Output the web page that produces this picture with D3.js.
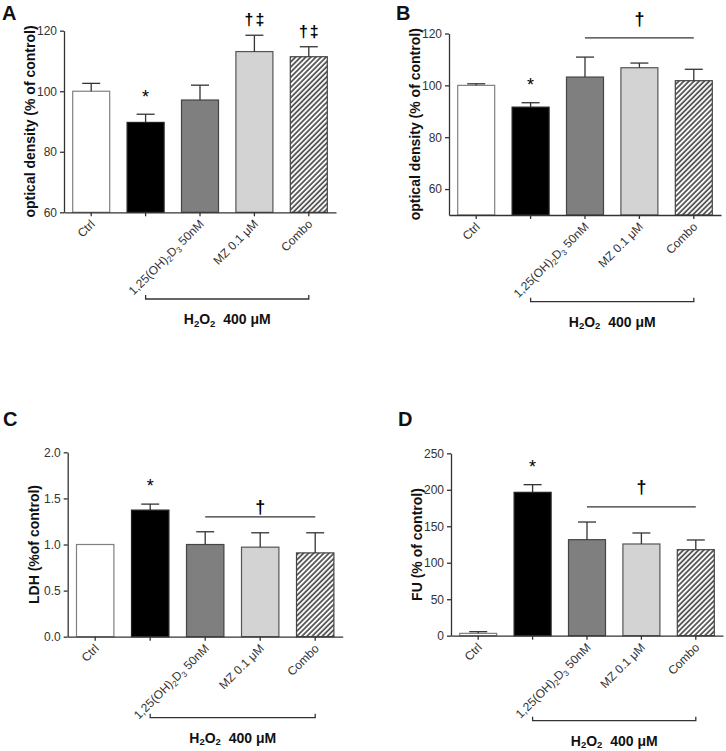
<!DOCTYPE html>
<html>
<head>
<meta charset="utf-8">
<script src="https://cdn.jsdelivr.net/npm/d3@7"></script>
<style>
  body { margin: 0; background: #fff; }
  svg { display: block; font-family: "Liberation Sans", Arial, sans-serif; }
</style>
</head>
<body>
<svg id="fig" width="726" height="751"></svg>
<script>
// groups and tick labels (the H2O2-only bar carries no label)
const groups = ["ctrl", "h2o2", "vd3", "mz", "combo"];
const groupLabels = ["Ctrl", "", "1,25(OH)_2D_3 50nM", "MZ 0.1 μM", "Combo"];

// A - optical density
const odA = [100, 89.7, 97.1, 113.1, 111.4];
const odAErr = [2.6, 2.7, 4.9, 5.4, 3.3];
// B - optical density
const odB = [100, 91.6, 103.2, 106.8, 101.8];
const odBErr = [0.6, 1.7, 7.7, 1.8, 4.4];
// C - LDH
const ldh = [1.0, 1.373, 1.0, 0.971, 0.909];
const ldhErr = [0, 0.065, 0.138, 0.156, 0.218];
// D - FU
const fu = [3.2, 196.5, 131.6, 125.7, 117.9];
const fuErr = [2.3, 10.5, 24.2, 15.1, 13.3];

const ticksA = [60, 80, 100, 120];
const ticksB = [60, 80, 100, 120];
const ticksC = [0, 0.5, 1.0, 1.5, 2.0];
const ticksD = [0, 50, 100, 150, 200, 250];

// significance bars (value on the y scale)
const sigB = 118.3;
const sigC = 1.30;
const sigD = 176.5;

const fills = ["#ffffff", "#000000", "#7f7f7f", "#d3d3d3", "url(#hatch)"];
const strokes = ["#808080", "#222222", "#444444", "#555555", "#444444"];

const svg = d3.select("#fig");

// diagonal hatching for the Combo bars
const pat = svg.append("defs").append("pattern")
  .attr("id", "hatch")
  .attr("patternUnits", "userSpaceOnUse")
  .attr("width", 3.6)
  .attr("height", 3.6)
  .attr("patternTransform", "rotate(45)");
pat.append("rect").attr("width", 3.6).attr("height", 3.6).attr("fill", "#fff");
pat.append("line")
  .attr("x1", 1).attr("y1", 0).attr("x2", 1).attr("y2", 3.6)
  .attr("stroke", "#4a4a4a").attr("stroke-width", 1.7);

const panels = [
  { letter: "A", lx: 2, ly: 20, mean: odA, err: odAErr, domain: [60, 120], ticks: ticksA, fmt: "d",
    yLabel: "optical density (% of control)", x0: 64, w: 272, top: 30.7, bottom: 212.3,
    bracketDy: 86.7, daggers: [3, 4], sig: null },
  { letter: "B", lx: 396, ly: 20, mean: odB, err: odBErr, domain: [50, 120], ticks: ticksB, fmt: "d",
    yLabel: "optical density (% of control)", x0: 449, w: 272, top: 33.5, bottom: 215,
    bracketDy: 86.7, daggers: [], sig: sigB, sigDy: 12.5 },
  { letter: "C", lx: 3, ly: 426, mean: ldh, err: ldhErr, domain: [0, 2], ticks: ticksC, fmt: ".1f",
    yLabel: "LDH (%of control)", x0: 67.7, w: 275, top: 452.3, bottom: 636.7,
    bracketDy: 81, daggers: [], sig: sigC, sigDy: 4 },
  { letter: "D", lx: 398, ly: 426, mean: fu, err: fuErr, domain: [0, 250], ticks: ticksD, fmt: "d",
    yLabel: "FU (% of control)", x0: 451, w: 272, top: 453.3, bottom: 635.7,
    bracketDy: 85, daggers: [], sig: sigD, sigDy: 13.5 }
];

// write "a_2b" as a with a subscript 2
function richText(sel, str, subSize) {
  str.split(/(_\d)/).filter((s) => s.length).forEach((part, i, arr) => {
    if (part[0] === "_") {
      sel.append("tspan").attr("font-size", subSize).attr("dy", 2.5).text(part[1]);
    } else {
      const t = sel.append("tspan").text(part);
      if (i > 0 && arr[i - 1][0] === "_") t.attr("dy", -2.5);
    }
  });
}

panels.forEach(drawPanel);

function drawPanel(p) {
  const g = svg.append("g");

  const x = d3.scaleBand()
    .domain(groups)
    .range([p.x0, p.x0 + p.w])
    .paddingInner(0.32)
    .paddingOuter(0.16);
  const y = d3.scaleLinear().domain(p.domain).range([p.bottom, p.top]);
  const cx = (d) => x(d) + x.bandwidth() / 2;

  // bars
  g.selectAll("rect.bar")
    .data(groups)
    .join("rect")
    .attr("class", "bar")
    .attr("x", (d) => x(d))
    .attr("width", x.bandwidth())
    .attr("y", (d, i) => y(p.mean[i]))
    .attr("height", (d, i) => y(p.domain[0]) - y(p.mean[i]))
    .attr("fill", (d, i) => fills[i])
    .attr("stroke", (d, i) => strokes[i])
    .attr("stroke-width", 1.2);

  // upper error bars
  const eb = g.selectAll("g.err")
    .data(groups.filter((d, i) => p.err[i] > 0))
    .join("g")
    .attr("class", "err")
    .attr("stroke", "#333")
    .attr("stroke-width", 1.3);
  eb.append("line")
    .attr("x1", cx).attr("x2", cx)
    .attr("y1", (d) => y(p.mean[groups.indexOf(d)]))
    .attr("y2", (d) => y(p.mean[groups.indexOf(d)] + p.err[groups.indexOf(d)]));
  eb.append("line")
    .attr("x1", (d) => cx(d) - 9).attr("x2", (d) => cx(d) + 9)
    .attr("y1", (d) => y(p.mean[groups.indexOf(d)] + p.err[groups.indexOf(d)]))
    .attr("y2", (d) => y(p.mean[groups.indexOf(d)] + p.err[groups.indexOf(d)]));

  // y axis
  const ya = g.append("g")
    .attr("transform", `translate(${p.x0},0)`)
    .call(d3.axisLeft(y).tickValues(p.ticks).tickSize(4).tickSizeOuter(0)
      .tickFormat(d3.format(p.fmt)));
  // x axis
  const xa = g.append("g")
    .attr("transform", `translate(0,${p.bottom})`)
    .call(d3.axisBottom(x).tickSize(4).tickSizeOuter(0).tickFormat(""));
  [ya, xa].forEach((a) => {
    a.selectAll("path, line").attr("stroke", "#333").attr("stroke-width", 1.3);
    a.selectAll("text").attr("fill", "#333").attr("font-size", 12)
      .attr("font-family", "Liberation Sans, Arial, sans-serif");
  });

  // rotated group labels
  groups.forEach((d, i) => {
    if (!groupLabels[i]) return;
    const t = g.append("text")
      .attr("transform", `translate(${cx(d) + 4.5},${p.bottom + 12.5}) rotate(-45)`)
      .attr("text-anchor", "end")
      .attr("font-size", 12)
      .attr("fill", "#333");
    richText(t, groupLabels[i], 8);
  });

  // y label
  g.append("text")
    .attr("transform", `translate(${p.x0 - 29},${(p.top + p.bottom) / 2}) rotate(-90)`)
    .attr("text-anchor", "middle")
    .attr("font-size", 14)
    .attr("font-weight", "bold")
    .attr("fill", "#111")
    .text(p.yLabel);

  // panel letter
  g.append("text")
    .attr("x", p.lx).attr("y", p.ly)
    .attr("font-size", 20)
    .attr("font-weight", "bold")
    .attr("fill", "#111")
    .text(p.letter);

  // * over H2O2 alone
  const capY = (i) => y(p.mean[i] + p.err[i]);
  g.append("text")
    .attr("x", cx(groups[1])).attr("y", capY(1) - 11.7)
    .attr("text-anchor", "middle")
    .attr("font-size", 18)
    .attr("fill", "#000")
    .text("*");

  // panel A: † ‡ over single bars
  p.daggers.forEach((i) => {
    g.append("text")
      .attr("x", cx(groups[i]) + 1).attr("y", capY(i) - 10)
      .attr("text-anchor", "middle")
      .attr("font-size", 16)
      .attr("font-weight", "bold")
      .attr("letter-spacing", 2)
      .attr("fill", "#000")
      .text("†‡");
  });

  // panels B-D: † over a line spanning the treated groups
  if (p.sig !== null) {
    const sy = y(p.sig);
    g.append("line")
      .attr("x1", cx(groups[2])).attr("x2", cx(groups[4]))
      .attr("y1", sy).attr("y2", sy)
      .attr("stroke", "#333").attr("stroke-width", 1.3);
    g.append("text")
      .attr("x", (cx(groups[2]) + cx(groups[4])) / 2).attr("y", sy - p.sigDy)
      .attr("text-anchor", "middle")
      .attr("font-size", 18)
      .attr("font-weight", "bold")
      .attr("fill", "#000")
      .text("†");
  }

  // H2O2 bracket under the treated groups
  const by = p.bottom + p.bracketDy;
  const bl = cx(groups[1]);
  const br = cx(groups[4]);
  g.append("path")
    .attr("d", `M${bl},${by - 4}V${by}H${br}V${by - 4}`)
    .attr("fill", "none")
    .attr("stroke", "#333")
    .attr("stroke-width", 1.3);
  const ht = g.append("text")
    .attr("x", (bl + br) / 2).attr("y", by + 25)
    .attr("text-anchor", "middle")
    .attr("font-size", 14)
    .attr("font-weight", "bold")
    .attr("fill", "#111")
    .attr("xml:space", "preserve")
    .style("white-space", "pre");
  richText(ht, "H_2O_2  400 μM", 9.5);
}
</script>
</body>
</html>
